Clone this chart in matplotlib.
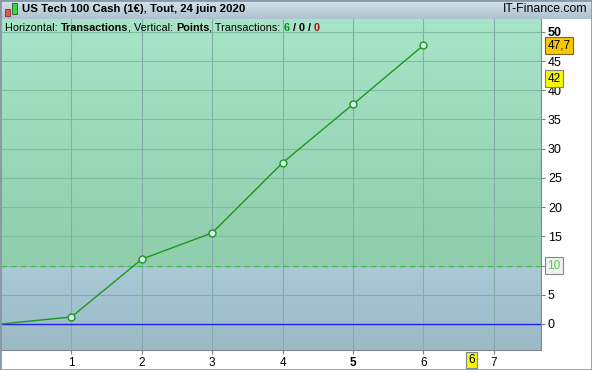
import matplotlib
matplotlib.use("Agg")
import matplotlib.pyplot as plt
import numpy as np
from matplotlib.patches import Rectangle

plt.rcParams["font.family"] = ["Liberation Sans", "DejaVu Sans"]

# data
trades = [0, 1, 2, 3, 4, 5, 6]
points = [0, 1.2, 11.1, 15.6, 27.6, 37.6, 47.7]
y_ticks = [0, 5, 10, 15, 20, 25, 30, 35, 40, 45, 50]
x_ticks = [1, 2, 3, 4, 5, 6, 7]
level_line = 10
last_value = 47.7
mark_value = 42
n_trades = 6

W, H = 592, 370
fig = plt.figure(figsize=(W / 100, H / 100), dpi=100)
fig.patch.set_facecolor("white")

# header bar
hdr = fig.add_axes([0, 1 - 19 / H, 1, 19 / H])
hdr.imshow(np.linspace(0, 1, 20).reshape(-1, 1), cmap=matplotlib.colors.LinearSegmentedColormap.from_list(
    "h", ["#d4e2ec", "#aec2d0"]), aspect="auto", extent=[0, 1, 0, 1])
hdr.set_xlim(0, 1)
hdr.set_ylim(0, 1)
hdr.axis("off")
hdr.add_patch(Rectangle((5 / W, 0.15), 5 / W, 0.4, facecolor="#f05050", edgecolor="#703030", lw=0.6))
hdr.add_patch(Rectangle((12 / W, 0.25), 5 / W, 0.6, facecolor="#40d040", edgecolor="#206020", lw=0.6))
hdr.text(22 / W, 0.5, "US Tech 100 Cash (1€), Tout, 24 juin 2020", fontsize=8.2,
         fontweight="bold", va="center", ha="left")
hdr.text(1 - 5 / W, 0.5, "IT-Finance.com", fontsize=8.8, va="center", ha="right")

# main plot
AW, AH = 540, 331
ax = fig.add_axes([1 / W, 20 / H, AW / W, AH / H])
x0, x1 = 0, 7.67
y0, y1 = -4.45, 52.2
cm_g = matplotlib.colors.LinearSegmentedColormap.from_list("g", ["#8fcdac", "#a8e4c8"])
cm_b = matplotlib.colors.LinearSegmentedColormap.from_list("b", ["#9bbac6", "#a9c9d7"])
grad = np.linspace(0, 1, 100).reshape(-1, 1)
ax.imshow(grad, cmap=cm_g, aspect="auto", extent=[x0, x1, level_line, y1], origin="lower", zorder=0)
ax.imshow(grad, cmap=cm_b, aspect="auto", extent=[x0, x1, y0, level_line], origin="lower", zorder=0)
ax.set_xlim(x0, x1)
ax.set_ylim(y0, y1)

for yv in y_ticks:
    ax.axhline(yv, color="#80bca0" if yv > level_line else "#8aa8b4", lw=0.8, zorder=1)
for xv in x_ticks:
    ax.axvline(xv, color="#84acac", lw=0.8, zorder=1)

ax.axhline(level_line, color="#40c040", lw=1, ls=(0, (4, 3)), zorder=2)
ax.axhline(0, color="#2020ff", lw=1, zorder=2)
ax.plot(trades, points, color="#1a9a1a", lw=1, zorder=3)
ax.plot(trades[1:], points[1:], "o", ms=5, mfc="#d8eef0", mec="#1a9a1a", mew=1, zorder=4)

ax.yaxis.tick_right()
ax.set_yticks(y_ticks)
ylabels = ax.set_yticklabels(["" if v == level_line else str(v) for v in y_ticks], fontsize=9)
ylabels[-1].set_fontweight("bold")
ax.set_xticks(x_ticks)
xlabels = ax.set_xticklabels([str(v) for v in x_ticks], fontsize=8.5)
xlabels[4].set_fontweight("bold")
ax.tick_params(axis="both", length=3, width=0.8, color="#808080", pad=2)
for s in ["top", "left"]:
    ax.spines[s].set_visible(False)
ax.spines["right"].set_color("#808890")
ax.spines["bottom"].set_color("#808890")

# info line
info = [("Horizontal: ", "black", "normal"), ("Transactions", "black", "bold"),
        (", Vertical: ", "black", "normal"), ("Points", "black", "bold"),
        (", Transactions: ", "black", "normal"), (str(n_trades), "#109010", "bold"),
        (" / ", "black", "bold"), ("0", "black", "bold"), (" / ", "black", "bold"),
        ("0", "#a01010", "bold")]
fig.canvas.draw()
rend = fig.canvas.get_renderer()
FS = 7.8


def width_px(s, wt):
    a = ax.text(0, 0, s + "x", fontsize=FS, fontweight=wt)
    b = ax.text(0, 0, "x", fontsize=FS, fontweight=wt)
    w = a.get_window_extent(rend).width - b.get_window_extent(rend).width
    a.remove()
    b.remove()
    return w


xpos = 4 / AW
for txt, col, wt in info:
    ax.text(xpos, 1 - 12 / AH, txt, transform=ax.transAxes, fontsize=FS,
            va="baseline", ha="left", color=col, fontweight=wt, zorder=5)
    xpos += width_px(txt, wt) / AW

# badges
box = dict(boxstyle="square,pad=0.2", lw=0.8)
ax.text(1.012, last_value, "47,7", transform=ax.get_yaxis_transform(), fontsize=8.5, va="center",
        ha="left", bbox=dict(box, fc="#f8c800", ec="#806030"))
ax.text(1.012, mark_value, "42", transform=ax.get_yaxis_transform(), fontsize=8.5, va="center",
        ha="left", bbox=dict(box, fc="#f8f800", ec="#808080"))
ax.text(1.012, level_line, "10", transform=ax.get_yaxis_transform(), fontsize=8.5, va="center",
        ha="left", color="#50d050", bbox=dict(box, fc="#f0f0f0", ec="#808890"))
ax.text(6.68, -0.03, str(n_trades), transform=ax.get_xaxis_transform(), fontsize=8.5, va="center",
        ha="center", bbox=dict(box, fc="#f8f800", ec="#808890"))

# outer frame
fig.add_artist(Rectangle((0, 0), 1, 1, transform=fig.transFigure, fill=False,
                         ec="#8898a4", lw=2))

fig.savefig("out.png", dpi=100, facecolor="white")
